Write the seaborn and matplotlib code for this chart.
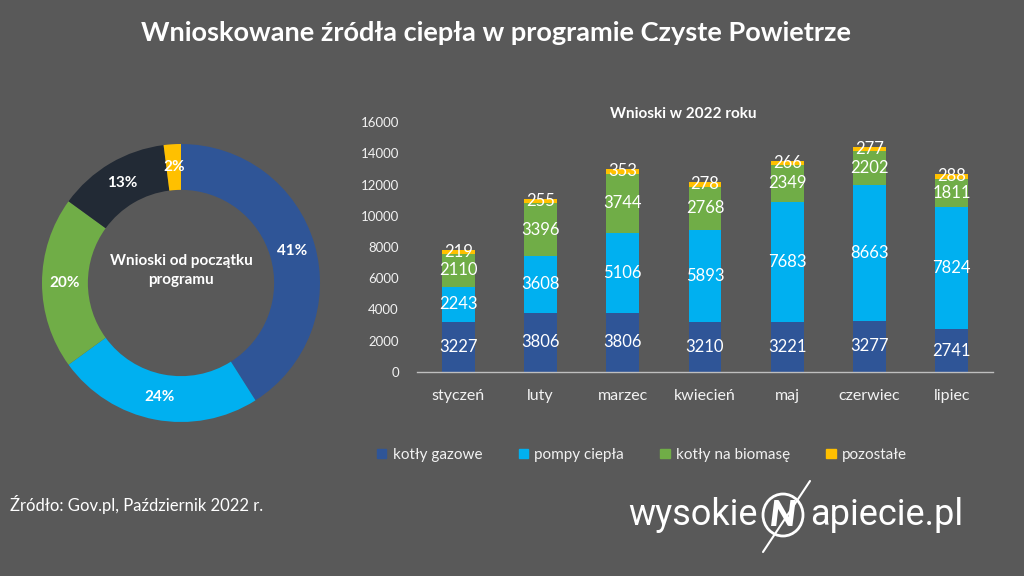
import seaborn as sns
import matplotlib.pyplot as plt
import matplotlib.patches as mpatches
import numpy as np
import pandas as pd

# data
months = ['styczeń', 'luty', 'marzec', 'kwiecień', 'maj', 'czerwiec', 'lipiec']
gas = [3227, 3806, 3806, 3210, 3221, 3277, 2741]
heat_pumps = [2243, 3608, 5106, 5893, 7683, 8663, 7824]
biomass = [2110, 3396, 3744, 2768, 2349, 2202, 1811]
other = [219, 255, 353, 278, 266, 277, 288]
series_names = ['kotły gazowe', 'pompy ciepła', 'kotły na biomasę', 'pozostałe']

donut_pct = [41, 24, 20, 13, 2]
yticks = list(range(0, 16001, 2000))

bg = '#595959'
txt = '#f2f2f2'
bar_colors = ['#2f5597', '#00b0f0', '#70ad47', '#ffc000']
donut_colors = ['#2f5597', '#00b0f0', '#70ad47', '#222a35', '#ffc000']

sns.set_theme(style='white')
plt.rcParams['font.family'] = ['Lato', 'DejaVu Sans']
plt.rcParams['text.color'] = txt

W, H = 1024, 576
fig = plt.figure(figsize=(10.24, 5.76), dpi=100, facecolor=bg)

def fx(x):
    return x / W

def fy(y):
    return 1 - y / H

fig.text(fx(496), fy(33), 'Wnioskowane źródła ciepła w programie Czyste Powietrze',
         ha='center', va='center', fontsize=19.5, fontweight='bold', color='white')

# ---- stacked bars ----
ax = fig.add_axes([fx(417), fy(372), fx(576), 250 / H])
ax.set_facecolor(bg)

df = pd.DataFrame({'month': months, 'gas': gas, 'hp': heat_pumps,
                   'bio': biomass, 'other': other})
cols = ['gas', 'hp', 'bio', 'other']
cum = df[cols].cumsum(axis=1)
cum['month'] = df['month']

# draw totals first, then the lower stacks over them
for col, color in reversed(list(zip(cols, bar_colors))):
    sns.barplot(data=cum, x='month', y=col, color=color, width=0.4,
                saturation=1, linewidth=0, ax=ax, order=months)

for col in cols:
    bottoms = cum[col] - df[col]
    for i, (b, v) in enumerate(zip(bottoms, df[col])):
        ax.text(i, b + v / 2, f'{v}', ha='center', va='center',
                fontsize=12, color='white')

ax.set_ylim(0, 16000)
ax.set_xlim(-0.5, len(months) - 0.5)
ax.set_yticks(yticks)
ax.set_yticklabels([str(t) for t in yticks], fontsize=9.5, color=txt)
ax.tick_params(axis='x', labelsize=11.5, colors=txt, length=0, pad=12)
ax.tick_params(axis='y', length=0, pad=13)
ax.set_xlabel('')
ax.set_ylabel('')
for s in ['top', 'right', 'left']:
    ax.spines[s].set_visible(False)
ax.spines['bottom'].set_color('#bfbfbf')
ax.spines['bottom'].set_linewidth(1)

fig.text(fx(683), fy(114), 'Wnioski w 2022 roku', ha='center', va='center',
         fontsize=11, fontweight='bold', color='white')

handles = [mpatches.Patch(color=c, label=n) for c, n in zip(bar_colors, series_names)]
fig.legend(handles=handles, loc='center', bbox_to_anchor=(fx(642), fy(455)),
           ncol=4, frameon=False, fontsize=11, handlelength=0.6, handleheight=0.6,
           handletextpad=0.4, columnspacing=2.4, labelcolor=txt)

# ---- donut ----
R = 139
cx, cy = 181, 283
dax = fig.add_axes([fx(cx - R), fy(cy + R), 2 * R / W, 2 * R / H])
dax.set_facecolor(bg)
wedges, texts, autotexts = dax.pie(
    donut_pct, colors=donut_colors, startangle=90, counterclock=False,
    radius=1, wedgeprops=dict(width=0.33, linewidth=0),
    autopct=lambda p: f'{p:.0f}%', pctdistance=0.835,
    textprops=dict(color='white', fontsize=11, fontweight='bold'))
dax.set_xlim(-1, 1)
dax.set_ylim(-1, 1)
dax.set_aspect('auto')
dax.axis('off')
dax.text(0, 0.09, 'Wnioski od początku\nprogramu', ha='center', va='center',
         fontsize=11, fontweight='bold', color='white', linespacing=1.4)

# ---- footer ----
fig.text(fx(10), fy(505), 'Źródło: Gov.pl, Październik 2022 r.', ha='left', va='center',
         fontsize=12, color='white')

fig.text(fx(758), fy(515), 'wysokie', ha='right', va='center', fontsize=26,
         color='white', family=['Roboto', 'DejaVu Sans'])
fig.text(fx(810), fy(515), 'apiecie.pl', ha='left', va='center', fontsize=26,
         color='white', family=['Roboto', 'DejaVu Sans'])
circ = mpatches.Ellipse((fx(783), fy(515)), 40 / W, 42 / H, transform=fig.transFigure,
                        fill=False, edgecolor='white', linewidth=2)
fig.patches.append(circ)
fig.text(fx(783), fy(515), 'N', ha='center', va='center', fontsize=26,
         fontweight='heavy', fontstyle='italic', color='white')
fig.lines.append(plt.Line2D([fx(763), fx(810)], [fy(552), fy(481)],
                            transform=fig.transFigure, color='white', linewidth=1.5))

fig.savefig('out.png', dpi=100, facecolor=bg)
